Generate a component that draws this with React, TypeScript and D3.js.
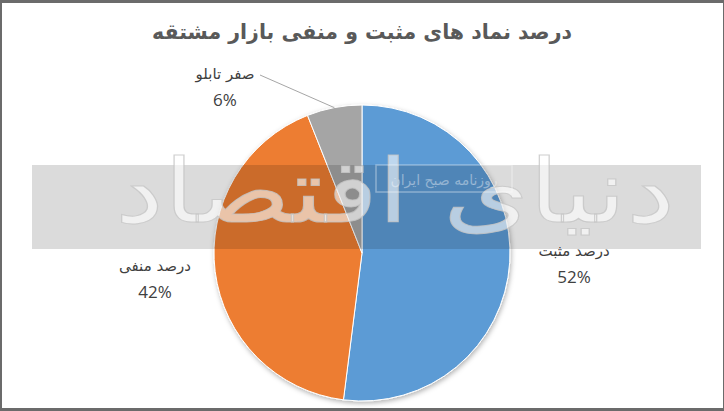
import React from "react";
import * as d3 from "d3";

const title = "درصد نماد های مثبت و منفی بازار مشتقه";
const categories = ["درصد مثبت", "درصد منفی", "صفر تابلو"];
const values = [52, 42, 6];
const colors = ["#5B9BD5", "#ED7D31", "#A5A5A5"];
const watermarkMain = "دنیای اقتصاد";
const watermarkSub = "روزنامه صبح ایران";

const W = 724;
const H = 411;
const cx = 362;
const cy = 253;
const R = 148;

export default function App() {
  const pie = d3.pie<number>().sort(null).value((d) => d);
  const arcs = pie(values);
  const arcGen = d3.arc<d3.PieArcDatum<number>>().innerRadius(0).outerRadius(R);
  const total = d3.sum(values);

  // label positions (relative to center) for each slice
  const labelPos = [
    { x: 212, y: 3 },
    { x: -207, y: 18 },
    { x: -137, y: -174 },
  ];

  const gray = arcs[2];
  const midG = (gray.startAngle + gray.endAngle) / 2;
  const leaderEnd = [R * Math.sin(midG), -R * Math.cos(midG)];

  return (
    <svg
      width={W}
      height={H}
      style={{ position: "absolute", left: 0, top: 0 }}
      fontFamily="DejaVu Sans"
    >
      <defs>
        <filter id="shadow" x="-20%" y="-20%" width="140%" height="140%">
          <feDropShadow dx="1" dy="2" stdDeviation="2.5" floodColor="#000" floodOpacity="0.3" />
        </filter>
      </defs>
      <rect x={0} y={0} width={W} height={H} fill="#6b6b6b" />
      <rect x={2} y={3} width={W - 3} height={H - 6} fill="#ffffff" />
      <text
        x={cx}
        y={39}
        textAnchor="middle"
        fontSize={21}
        fontWeight="bold"
        fill="#595959"
        direction="rtl"
        textLength={420}
        lengthAdjust="spacingAndGlyphs"
      >
        {title}
      </text>
      <g transform={`translate(${cx},${cy})`}>
        <g filter="url(#shadow)">
          {arcs.map((a, i) => (
            <path key={i} d={arcGen(a) || ""} fill={colors[i]} stroke="#ffffff" strokeWidth={1} />
          ))}
        </g>
        <line
          x1={-102}
          y1={-178}
          x2={leaderEnd[0]}
          y2={leaderEnd[1]}
          stroke="#a6a6a6"
          strokeWidth={1}
        />
        {arcs.map((a, i) => (
          <g key={i} transform={`translate(${labelPos[i].x},${labelPos[i].y})`} fill="#404040">
            <text y={0} textAnchor="middle" fontSize={15} direction="rtl">
              {categories[i]}
            </text>
            <text y={27} textAnchor="middle" fontSize={17} fontFamily="Open Sans">
              {`${Math.round((a.value / total) * 100)}%`}
            </text>
          </g>
        ))}
      </g>
      {/* watermark */}
      <rect x={32} y={165} width={669} height={84} fill="#000" opacity={0.14} />
      <text
        x={395}
        y={222}
        textAnchor="middle"
        fontSize={88}
        fill="#ffffff"
        fillOpacity={0.6}
        stroke="#c4c4c4"
        strokeWidth={1}
        strokeOpacity={0.8}
        textLength={560}
        lengthAdjust="spacingAndGlyphs"
        direction="rtl"
      >
        {watermarkMain}
      </text>
      <rect x={376} y={165} width={136} height={27} fill="none" stroke="#ffffff" strokeOpacity={0.35} strokeWidth={1.5} />
      <text x={444} y={185} textAnchor="middle" fontSize={14} fill="#ffffff" fillOpacity={0.4} direction="rtl">
        {watermarkSub}
      </text>
    </svg>
  );
}
